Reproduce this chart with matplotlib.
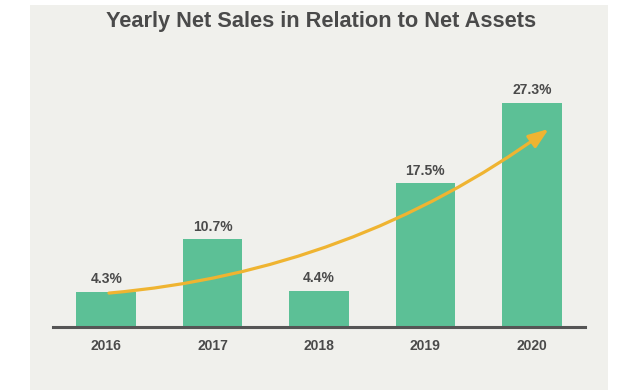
import matplotlib
matplotlib.use('Agg')
import matplotlib.pyplot as plt
from matplotlib.patches import Rectangle, FancyArrowPatch

years = ['2016', '2017', '2018', '2019', '2020']
ratios = [4.3, 10.7, 4.4, 17.5, 27.3]
labels = ['4.3%', '10.7%', '4.4%', '17.5%', '27.3%']

# trend arrow, from the first bar to near the top of the last one
trend_x = [0.0, 4.18]
trend_y = [4.1, 24.3]

title = 'Yearly Net Sales in Relation to Net Assets'

BG = '#f0f0ec'
GREEN = '#5cc096'
GOLD = '#efb431'
TEXT = '#4a4a4a'


def draw_plot():
    plt.rcParams['font.family'] = ['Liberation Sans', 'DejaVu Sans']

    fig = plt.figure(figsize=(6.18, 3.91), dpi=100, facecolor='white')
    # grey card behind the chart
    card = Rectangle((30 / 618, 1 / 391), 578 / 618, 385 / 391,
                     transform=fig.transFigure, facecolor=BG,
                     edgecolor='none', zorder=-10)
    fig.add_artist(card)

    ax = fig.add_axes([53 / 618, 64 / 391, 532 / 618, 267 / 391])
    ax.set_facecolor('none')

    x = range(len(years))
    ax.bar(x, ratios, width=0.56, color=GREEN, zorder=2)

    for i, (v, lab) in enumerate(zip(ratios, labels)):
        ax.annotate(lab, (i, v), xytext=(0, 4), textcoords='offset points',
                    ha='center', va='bottom', fontsize=10, fontweight='bold',
                    color=TEXT)

    arrow = FancyArrowPatch((trend_x[0], trend_y[0]), (trend_x[1], trend_y[1]),
                            connectionstyle='arc3,rad=0.14',
                            arrowstyle='-|>,head_length=1.2,head_width=0.45',
                            mutation_scale=10, color=GOLD, lw=2.3, zorder=3)
    ax.add_patch(arrow)

    ax.set_xlim(-0.5, 4.5)
    ax.set_ylim(0, 32.5)
    ax.set_xticks(list(x))
    ax.set_xticklabels(years, fontsize=10, fontweight='bold', color=TEXT)
    ax.tick_params(axis='x', length=0, pad=9)
    ax.set_yticks([])
    for side in ['top', 'left', 'right']:
        ax.spines[side].set_visible(False)
    ax.spines['bottom'].set_color('#555555')
    ax.spines['bottom'].set_linewidth(2.2)
    ax.spines['bottom'].set_zorder(4)

    fig.text(321 / 618, 1 - 21 / 391, title, ha='center', va='center',
             fontsize=15.7, fontweight='bold', color=TEXT)

    fig.savefig('out.png', dpi=100, facecolor='white')


draw_plot()
